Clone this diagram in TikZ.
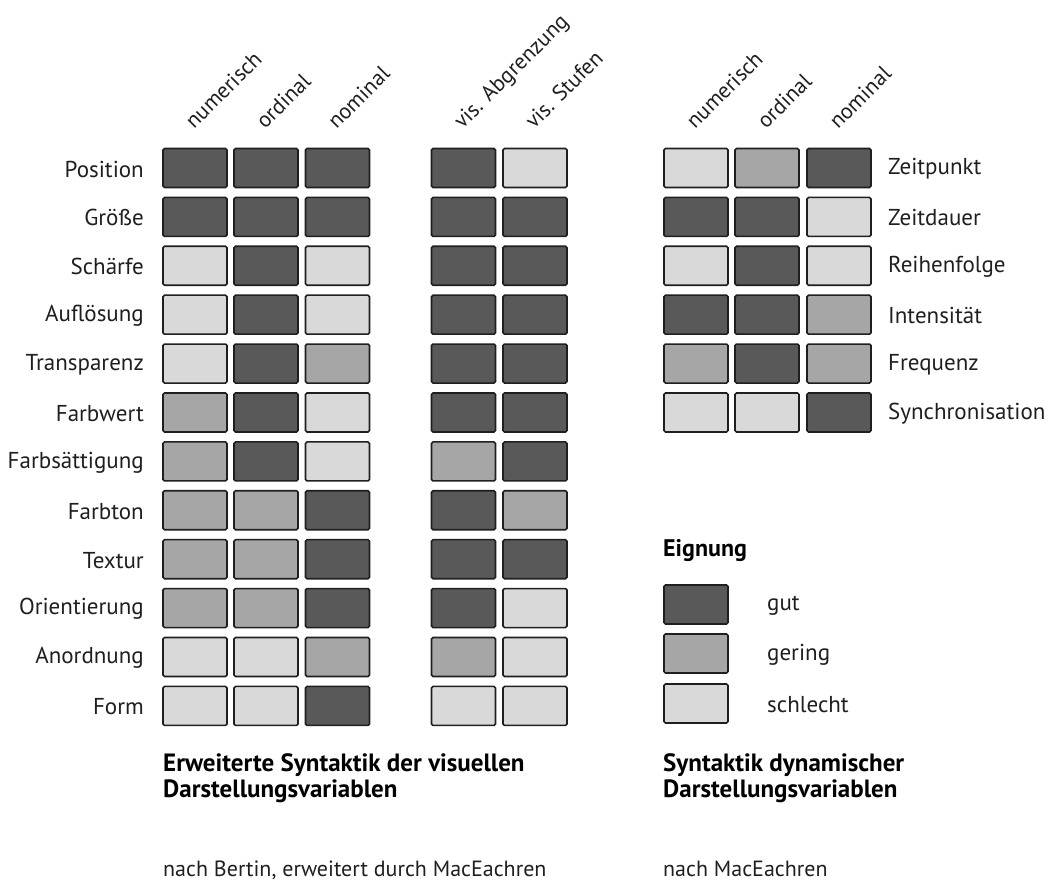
\documentclass[tikz,border=0pt]{standalone}
\usepackage{fontspec}
\setmainfont{PT Sans}
\begin{document}
\begin{tikzpicture}[x=1pt,y=-1pt,
  cell/.style={draw=black!88,line width=1.6pt,rounded corners=1.5pt,minimum width=64pt,minimum height=39pt,inner sep=0pt},
  dk/.style={cell,fill=black!65},
  md/.style={cell,fill=black!35},
  lt/.style={cell,fill=black!15},
  rowlab/.style={font=\fontsize{23}{26}\selectfont,text=black!88,inner sep=0pt},
  collab/.style={font=\fontsize{22}{25}\selectfont,text=black!88,inner sep=0pt,rotate=45,anchor=base west},
  title/.style={font=\fontsize{25}{25.5}\selectfont\bfseries,inner sep=0pt,anchor=base west,align=left},
  sub/.style={font=\fontsize{22}{25}\selectfont,text=black!88,inner sep=0pt,anchor=base west}]
\useasboundingbox (0,0) rectangle (1053,890);
% column headers
\foreach \x/\t/\n in {195/numerisch/ha,266/ordinal/hb,337.5/nominal/hc,463.5/vis. Abgrenzung/hd,535/vis. Stufen/he,696/numerisch/hf,767/ordinal/hg,839/nominal/hh}
  \node[collab] (\n) at (\x-1,130) {\t};
% left rows
\foreach \lab/\a/\b/\c/\d/\e [count=\i from 0] in {
  Position/dk/dk/dk/dk/lt,
  Größe/dk/dk/dk/dk/dk,
  Schärfe/lt/dk/lt/dk/dk,
  Auflösung/lt/dk/lt/dk/dk,
  Transparenz/lt/dk/md/dk/dk,
  Farbwert/md/dk/lt/dk/dk,
  Farbsättigung/md/dk/lt/md/dk,
  Farbton/md/md/dk/dk/md,
  Textur/md/md/dk/dk/dk,
  Orientierung/md/md/dk/dk/lt,
  Anordnung/lt/lt/md/md/lt,
  Form/lt/lt/dk/lt/lt}{
  \pgfmathsetmacro{\yy}{168+48.9*\i}
  \node[\a] (a\i) at (195,\yy) {};
  \node[\b] (b\i) at (266,\yy) {};
  \node[\c] (c\i) at (337.5,\yy) {};
  \node[\d] (d\i) at (463.5,\yy) {};
  \node[\e] (e\i) at (535,\yy) {};
  \node[rowlab,anchor=east] (l\i) at (144,\yy+1) {\lab};
}
% right rows
\foreach \lab/\a/\b/\c [count=\i from 0] in {
  Zeitpunkt/lt/md/dk,
  Zeitdauer/dk/dk/lt,
  Reihenfolge/lt/dk/lt,
  Intensität/dk/dk/md,
  Frequenz/md/dk/md,
  Synchronisation/lt/lt/dk}{
  \pgfmathsetmacro{\yy}{168+48.9*\i}
  \node[\a] (f\i) at (696,\yy) {};
  \node[\b] (g\i) at (767,\yy) {};
  \node[\c] (h\i) at (839,\yy) {};
  \node[rowlab,anchor=west] (r\i) at (888,\yy+1) {\lab};
}
% legend
\node[title,font=\fontsize{24}{26}\selectfont\bfseries] (eig) at (663,557) {Eignung};
\node[dk] (lg1) at (696,604.5) {};
\node[md] (lg2) at (696,653.5) {};
\node[lt] (lg3) at (696,703.5) {};
\node[rowlab,anchor=west] (lt1) at (767,605.5) {gut};
\node[rowlab,anchor=west] (lt2) at (767,654.5) {gering};
\node[rowlab,anchor=west] (lt3) at (767,704.5) {schlecht};
% titles
\node[title] (t1) at (163,797) {Erweiterte Syntaktik der visuellen\\Darstellungsvariablen};
\node[title] (t2) at (663,797) {Syntaktik dynamischer\\Darstellungsvariablen};
\node[sub] (s1) at (163,876) {nach Bertin, erweitert durch MacEachren};
\node[sub] (s2) at (663,876) {nach MacEachren};
\end{tikzpicture}
\end{document}
